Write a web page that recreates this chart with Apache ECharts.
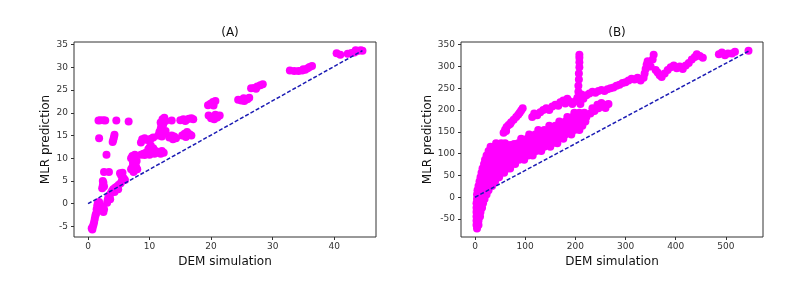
<!DOCTYPE html>
<html>
<head>
<meta charset="utf-8">
<script src="https://cdn.jsdelivr.net/npm/echarts@6/dist/echarts.min.js"></script>
<style>html,body{margin:0;padding:0;background:#fff}#c{width:796px;height:284px}</style>
</head>
<body>
<div id="c"></div>
<script>
// ---- Labels and ticks ----
const titlesAB = ['(A)', '(B)'];
const xNameAB = 'DEM simulation';
const yNameAB = 'MLR prediction';
const xTicksA = [0, 10, 20, 30, 40];
const yTicksA = [-5, 0, 5, 10, 15, 20, 25, 30, 35];
const xTicksB = [0, 100, 200, 300, 400, 500];
const yTicksB = [-50, 0, 50, 100, 150, 200, 250, 300, 350];
// ---- reference lines ----
const lineA = [[0, 0], [44.6, 33.7]];
const lineB = [[0, 0], [545, 335]];
// ---- Panel A points ----
const pointsA = [
  [0.6,-5.4],[0.7,-5.7],[0.8,-5.0],[0.9,-4.6],[1.0,-4.0],[1.1,-3.3],[1.2,-2.6],[1.3,-2.2],[1.4,-1.2],[1.5,-0.4],
  [1.6,0.2],[1.7,-0.6],[1.8,0.4],[1.9,-0.9],[2.1,-1.1],[2.2,-0.6],[2.4,-1.4],[2.5,-1.8],[2.6,-1.2],
  [2.3,3.4],[2.4,4.0],[2.5,4.6],[2.4,5.0],[2.6,3.8],
  [2.6,7.0],[3.4,7.0],[3.0,10.8],[1.8,14.4],[4.1,14.0],[4.2,14.6],[4.3,15.2],[4.0,13.6],
  [1.7,18.3],[2.0,18.4],[2.5,18.4],[2.8,18.3],[4.6,18.3],[6.6,18.1],
  [3.1,0.2],[3.2,0.8],[3.3,1.3],[3.5,1.8],[3.7,2.3],[3.9,2.8],[4.1,3.2],[4.4,3.5],[4.7,3.8],[5.0,4.2],
  [5.3,4.5],[5.5,5.0],[5.8,5.6],[5.4,6.2],[5.6,6.8],[5.2,6.7],[6.0,5.2],[3.6,1.0],[4.3,2.6],[4.9,3.2],
  [7.0,7.6],[7.2,8.0],[7.4,7.0],[7.6,7.4],[7.8,8.2],[7.3,9.0],[7.5,9.8],[7.2,10.5],[7.6,10.8],[7.9,9.4],[7.0,10.0],[8.0,7.6],
  [8.6,13.5],[8.8,14.2],[9.2,14.4],[9.6,14.0],[10.2,14.3],[10.6,14.6],
  [8.6,10.8],[9.0,11.0],[9.4,11.2],[9.8,11.5],[10.0,12.4],[10.2,12.8],[10.4,11.6],[10.8,11.0],[11.2,11.2],[11.6,11.4],[12.0,11.6],[12.3,11.2],[10.6,12.2],[9.8,12.0],
  [9.2,10.7],[10.0,10.8],[11.0,11.6],[11.8,11.0],
  [11.4,15.0],[11.6,15.8],[11.8,16.4],[12.0,14.8],[12.3,15.4],[12.6,16.0],[11.9,17.0],[12.2,17.4],
  [11.8,17.9],[12.1,18.6],[12.4,18.9],[12.6,18.2],[13.6,18.3],
  [13.2,14.6],[13.6,15.0],[14.0,14.8],[14.3,14.4],[13.8,14.2],
  [15.0,18.4],[15.5,18.6],[16.0,18.5],[16.4,18.7],[16.8,18.8],[17.1,18.6],[15.8,18.2],
  [15.3,15.0],[15.7,15.4],[16.1,15.8],[16.5,15.3],[16.8,15.0],[15.9,14.7],
  [19.5,21.7],[19.9,22.0],[20.3,22.4],[20.7,22.6],[20.4,21.6],
  [19.6,19.4],[20.0,18.8],[20.5,18.6],[21.0,19.0],[21.4,19.4],[20.7,19.6],
  [24.4,22.9],[24.9,22.7],[25.4,22.6],[25.9,23.0],[26.2,23.3],[25.3,23.2],
  [26.5,25.4],[27.0,25.5],[27.5,25.8],[28.0,26.1],[28.4,26.3],[27.3,25.3],
  [32.8,29.3],[33.5,29.2],[34.2,29.2],[34.8,29.3],[35.3,29.5],[35.7,29.8],[36.0,30.1],[36.4,30.3],[35.0,29.6],
  [40.4,33.1],[41.0,32.8],
  [42.2,33.0],[42.8,33.2],[43.3,33.3],[43.8,33.6],[44.3,33.8],[44.6,33.7],[43.5,33.8]
];
// ---- Panel B points ----
const pointsBblob = [
  [4,-72],[3,-64],[7,-64],[3,-54],[7,-54],[3,-44],[7,-44],[10,-44],[3,-34],[7,-34],[11,-34],
  [3,-24],[7,-24],[11,-24],[14,-24],[3,-14],[7,-14],[11,-14],[16,-14],
  [4,-4],[8,-4],[12,-4],[16,-4],[19,-4],[4,6],[9,6],[14,6],[19,6],[23,6],
  [5,16],[10,16],[15,16],[21,16],[27,16],[7,26],[12,26],[18,26],[24,26],[30,26],[34,26],
  [9,36],[15,36],[21,36],[28,36],[35,36],[40,36],[11,46],[18,46],[25,46],[32,46],[40,46],[48,46],
  [13,56],[20,56],[28,56],[36,56],[44,56],[52,56],[58,56],
  [15,66],[23,66],[31,66],[39,66],[47,66],[56,66],[64,66],[70,66],
  [18,76],[26,76],[35,76],[44,76],[53,76],[62,76],[71,76],[80,76],
  [20,86],[29,86],[38,86],[48,86],[58,86],[68,86],[78,86],[88,86],[98,86],
  [23,96],[33,96],[43,96],[53,96],[63,96],[73,96],[84,96],[95,96],[106,96],[115,96],
  [27,106],[37,106],[47,106],[57,106],[67,106],[78,106],[89,106],[100,106],[111,106],[122,106],[132,106],
  [31,116],[41,116],[51,116],[61,116],[72,116],[83,116],[94,116],[105,116],[116,116],[127,116],[138,116],[150,116],
  [42,124],[52,124],[60,124],[70,120],[78,122],[86,124],[96,124],[106,124],[118,124],[130,124],[142,124],[154,124],[164,124],
  [92,134],[104,134],[116,134],[128,134],[140,134],[152,134],[164,134],[176,134],
  [108,144],[120,144],[132,144],[144,144],[156,144],[168,144],[180,144],[192,144],
  [126,154],[138,154],[150,154],[162,154],[174,154],[186,154],[198,154],[208,154],
  [148,164],[160,164],[172,164],[184,164],[196,164],[206,164],[214,164],
  [168,174],[180,174],[192,174],[204,174],[214,174],[220,174],
  [184,184],[194,184],[204,184],[214,184],[222,184],[198,194],[208,194],[218,194],
  [230,192],[238,198],[246,204],[254,208],[262,212],[234,204],[244,212],[252,216],[260,205],[266,214]
];
const pointsBarm = [
  [57,148],[60,155],[62,152],[63,161],[67,166],[70,168],[72,172],[77,178],[82,184],[86,189],[89,194],[92,199],[95,204]
];
const pointsBband = [
  [114,184],[118,192],[124,188],[130,195],[136,200],[142,204],[148,200],[154,208],[160,212],[166,210],[170,218],
  [176,222],[180,215],[184,226],[188,220],[194,214],[200,220],
  [204,228],[206,242],[206,256],[207,270],[207,284],[208,298],[208,310],[208,320],[208,327],[210,214],[212,236],
  [216,226],[222,234],[228,238],[234,242],[240,240],[246,244],[252,246],[258,244],[264,248],[270,250],
  [276,252],[282,256],[288,258],[294,262],[300,264],[306,268],[312,272],[318,270],[324,274],[330,268],[336,274],
  [338,284],[340,294],[342,304],[344,312],[350,300],[354,316],[356,327],[360,292],[364,286],[368,280],[372,276],
  [378,284],[384,292],[390,298],[396,302],[402,296],[408,300],[414,294],[420,302],[426,308],[432,316],[438,322],
  [442,328],[448,324],[454,320],[486,328],[492,332],[498,326],[504,330],[512,330],[518,334],[545,336]
];
const pointsB = pointsBblob.concat(pointsBarm, pointsBband);

const FONT = 'DejaVu Sans';
const MAG = '#ff00ff';
const LINEC = '#1c1cb4';

function xAxisCfg(idx, min, max, ticks) {
  return {
    gridIndex: idx, type: 'value', min: min, max: max,
    name: xNameAB, nameLocation: 'middle', nameGap: 17,
    nameTextStyle: { fontFamily: FONT, fontSize: 12, color: '#111' },
    axisLine: { show: false, onZero: false },
    axisTick: { show: true, length: 3, inside: false, customValues: ticks, lineStyle: { color: '#333' } },
    axisLabel: { customValues: ticks, fontFamily: FONT, fontSize: 9, color: '#333', margin: 5 },
    splitLine: { show: false }
  };
}
function yAxisCfg(idx, min, max, ticks) {
  return {
    gridIndex: idx, type: 'value', min: min, max: max,
    name: yNameAB, nameLocation: 'middle', nameGap: 22, nameRotate: 90,
    nameTextStyle: { fontFamily: FONT, fontSize: 12, color: '#111' },
    axisLine: { show: false, onZero: false },
    axisTick: { show: true, length: 3, inside: false, customValues: ticks, lineStyle: { color: '#333' } },
    axisLabel: { customValues: ticks, fontFamily: FONT, fontSize: 9, color: '#333', margin: 6 },
    splitLine: { show: false }
  };
}

const chart = echarts.init(document.getElementById('c'), null, { renderer: 'canvas' });
chart.setOption({
  animation: false,
  backgroundColor: '#fff',
  title: [
    { text: titlesAB[0], left: 225, top: 22, textAlign: 'center', textStyle: { fontFamily: FONT, fontSize: 12, fontWeight: 'normal', color: '#111' } },
    { text: titlesAB[1], left: 612, top: 22, textAlign: 'center', textStyle: { fontFamily: FONT, fontSize: 12, fontWeight: 'normal', color: '#111' } }
  ],
  grid: [
    { left: 74, top: 42, width: 302, height: 195, show: true, borderColor: '#333', borderWidth: 1, backgroundColor: 'transparent' },
    { left: 461, top: 42, width: 302, height: 195, show: true, borderColor: '#333', borderWidth: 1, backgroundColor: 'transparent' }
  ],
  xAxis: [xAxisCfg(0, -2.28, 46.8, xTicksA), xAxisCfg(1, -27.9, 573.9, xTicksB)],
  yAxis: [yAxisCfg(0, -7.33, 35.6, yTicksA), yAxisCfg(1, -91.3, 356.2, yTicksB)],
  series: [
    { type: 'scatter', xAxisIndex: 0, yAxisIndex: 0, data: pointsA, symbolSize: 8, itemStyle: { color: MAG, opacity: 1 }, z: 2 },
    { type: 'line', xAxisIndex: 0, yAxisIndex: 0, data: lineA, symbol: 'none', lineStyle: { type: [4, 2], width: 1.5, color: LINEC }, z: 3 },
    { type: 'scatter', xAxisIndex: 1, yAxisIndex: 1, data: pointsB, symbolSize: 8, itemStyle: { color: MAG, opacity: 1 }, z: 2 },
    { type: 'line', xAxisIndex: 1, yAxisIndex: 1, data: lineB, symbol: 'none', lineStyle: { type: [4, 2], width: 1.5, color: LINEC }, z: 3 }
  ]
});
</script>
</body>
</html>
